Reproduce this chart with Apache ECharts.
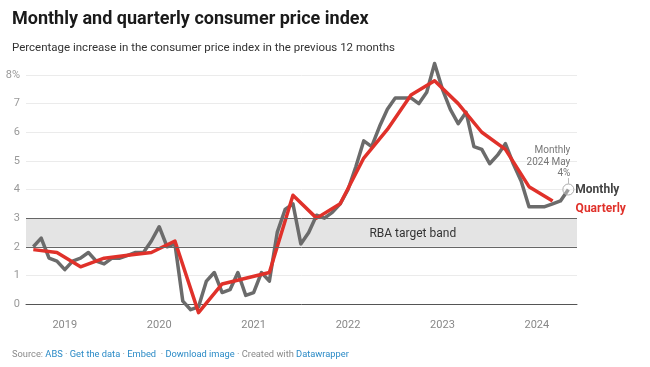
<!DOCTYPE html>
<html>
<head>
<meta charset="utf-8">
<script src="https://cdn.jsdelivr.net/npm/echarts@6/dist/echarts.min.js"></script>
<style>
html,body{margin:0;padding:0;background:#fff;}
#chart{width:650px;height:367px;}
</style>
</head>
<body>
<div id="chart"></div>
<script>
// Monthly CPI indicator, Sep 2018 – May 2024 (12-month % change)
var monthStart = '2018-09';
var monthlyValues = [
  2.0, 2.3, 1.6, 1.5,
  1.2, 1.5, 1.6, 1.8, 1.5, 1.4, 1.6, 1.6, 1.7, 1.8, 1.8, 2.2,
  2.7, 2.0, 2.1, 0.1, -0.2, -0.1, 0.8, 1.1, 0.4, 0.5, 1.1, 0.3,
  0.4, 1.1, 0.8, 2.5, 3.3, 3.5, 2.1, 2.5, 3.1, 3.0, 3.2, 3.5,
  4.0, 4.8, 5.7, 5.5, 6.2, 6.8, 7.2, 7.2, 7.2, 7.0, 7.4, 8.4,
  7.5, 6.8, 6.3, 6.7, 5.5, 5.4, 4.9, 5.2, 5.6, 4.9, 4.3, 3.4,
  3.4, 3.4, 3.5, 3.6, 4.0
];
// Quarterly CPI, Sep qtr 2018 – Mar qtr 2024
var quarterlyValues = [
  1.9, 1.8, 1.3, 1.6, 1.7, 1.8, 2.2, -0.3, 0.7, 0.9, 1.1, 3.8,
  3.0, 3.5, 5.1, 6.1, 7.3, 7.8, 7.0, 6.0, 5.4, 4.1, 3.6
];
var yearLabels = ['2019', '2020', '2021', '2022', '2023', '2024'];
var yearMonthIndex = [4, 16, 28, 40, 52, 64]; // January of each year
var yTicks = [0, 1, 2, 3, 4, 5, 6, 7, 8];
var targetBand = [2, 3];

var monthlyData = monthlyValues.map(function (v, i) { return [i, v]; });
var quarterlyData = quarterlyValues.map(function (v, i) { return [i * 3, v]; });
var lastIdx = monthlyValues.length - 1;
var lastVal = monthlyValues[lastIdx];

var chart = echarts.init(document.getElementById('chart'), null, {renderer: 'canvas'});
var FONT = 'Roboto, "Noto Sans", sans-serif';

chart.setOption({
  animation: false,
  textStyle: {fontFamily: FONT},
  title: [
    {text: 'Monthly and quarterly consumer price index', left: 7, top: 5,
     textStyle: {fontFamily: FONT, fontSize: 18, fontWeight: 'bold', color: '#1a1a1a'}},
    {text: 'Percentage increase in the consumer price index in the previous 12 months', left: 7, top: 37,
     textStyle: {fontFamily: FONT, fontSize: 11.5, fontWeight: 'normal', color: '#333'}},
    {text: '{g|Source: }{b|ABS}{g| · }{b|Get the data}{g| · }{b|Embed}{g|  · }{b|Download image}{g| · Created with }{b|Datawrapper}',
     left: 7, top: 345,
     textStyle: {fontFamily: FONT, fontSize: 9.3, fontWeight: 'normal',
       rich: {g: {color: '#8a8a8a', fontSize: 9.3, fontFamily: FONT}, b: {color: '#2a8ac6', fontSize: 9.3, fontFamily: FONT}}}}
  ],
  grid: {left: 26, right: 73, top: 75, bottom: 63, containLabel: false},
  xAxis: {
    type: 'value', min: -0.93, max: 69.1,
    splitLine: {show: false},
    axisTick: {show: false},
    axisLine: {show: true, onZero: true, lineStyle: {color: '#555', width: 1}},
    axisLabel: {
      customValues: yearMonthIndex,
      formatter: function (v) { var k = yearMonthIndex.indexOf(Math.round(v)); return k >= 0 ? yearLabels[k] : ''; },
      color: '#888', fontSize: 11, margin: 16, fontFamily: FONT
    }
  },
  yAxis: {
    type: 'value', min: yTicks[0], max: yTicks[yTicks.length - 1], interval: 1,
    axisLine: {show: false}, axisTick: {show: false},
    splitLine: {lineStyle: {color: '#ebebeb', width: 1}},
    axisLabel: {
      formatter: function (v) { return v === yTicks[yTicks.length - 1] ? v + '%' : String(v); },
      color: '#999', fontSize: 11, margin: 6, fontFamily: FONT
    }
  },
  series: [
    {
      type: 'line', data: [], z: 1, silent: true,
      markArea: {
        silent: true,
        itemStyle: {color: '#e4e4e4'},
        label: {show: true, position: ['70.2%', '56%'], align: 'center', verticalAlign: 'middle',
                color: '#333', fontSize: 12, fontFamily: FONT},
        data: [[{name: 'RBA target band', yAxis: targetBand[0]}, {yAxis: targetBand[1]}]]
      },
      markLine: {
        silent: true, symbol: ['none', 'none'], label: {show: false},
        lineStyle: {color: '#666', width: 1, type: 'solid'},
        data: [{yAxis: targetBand[0]}, {yAxis: targetBand[1]}]
      }
    },
    {
      name: 'Monthly', type: 'line', data: monthlyData, z: 3,
      showSymbol: false, symbol: 'none', clip: false,
      lineStyle: {color: '#6b6b6b', width: 3.5, join: 'round'},
      endLabel: {show: true, formatter: 'Monthly', color: '#444', fontWeight: 'bold', fontSize: 12,
                 distance: 7, fontFamily: FONT},
      markPoint: {
        silent: true,
        symbol: 'circle', symbolSize: 11,
        itemStyle: {color: 'rgba(255,255,255,0.35)', borderColor: '#aaa', borderWidth: 1},
        label: {show: true, formatter: 'Monthly\n2024 May\n' + lastVal + '%', position: [8, -4],
                align: 'right', verticalAlign: 'bottom', color: '#777', fontSize: 10, lineHeight: 11.5,
                fontFamily: FONT},
        data: [{coord: [lastIdx, lastVal]}]
      },
      markLine: {
        silent: true, symbol: ['none', 'none'], label: {show: false},
        lineStyle: {color: '#bbb', width: 1, type: 'solid'},
        data: [[{coord: [lastIdx, lastVal + 0.2]}, {coord: [lastIdx, lastVal + 0.4]}]]
      }
    },
    {
      name: 'Quarterly', type: 'line', data: quarterlyData, z: 4,
      showSymbol: false, symbol: 'none', clip: false,
      lineStyle: {color: '#e0312a', width: 3.5, join: 'round'},
      endLabel: {show: true, formatter: 'Quarterly', color: '#e0312a', fontWeight: 'bold', fontSize: 12,
                 distance: 23, offset: [0, 8], fontFamily: FONT}
    }
  ]
});
</script>
</body>
</html>
